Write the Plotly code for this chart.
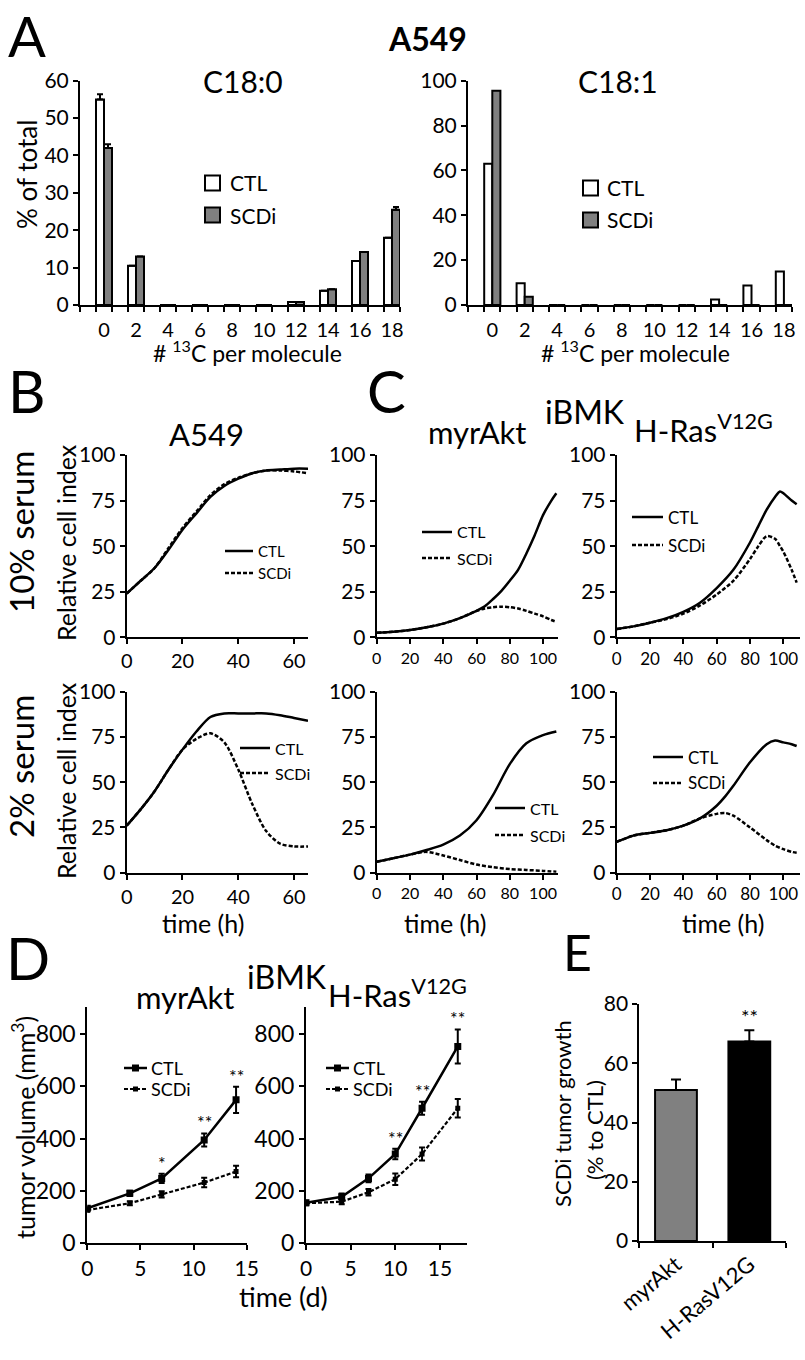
import plotly.graph_objects as go

W, H = 805, 1360
FONT = "Lato"

# ---------------- Panel A data (13C labelling) ----------------
a_x = [0, 2, 4, 6, 8, 10, 12, 14, 16, 18]
a_tick_text = ["0", "2", "4", "6", "8", "10", "12", "14", "16", "18"]
c180_ctl = [55.0, 10.5, 0, 0, 0, 0, 0.8, 3.8, 11.8, 18.0]
c180_ctl_err = [1.4, 0, 0, 0, 0, 0, 0, 0, 0, 0]
c180_scd = [42.0, 13.0, 0, 0, 0, 0, 0.8, 4.2, 14.2, 25.5]
c180_scd_err = [1.0, 0, 0, 0, 0, 0, 0, 0, 0, 0.7]
c181_ctl = [63.0, 9.7, 0, 0, 0, 0, 0, 2.5, 8.7, 14.9]
c181_scd = [95.5, 3.7, 0, 0, 0, 0, 0, 0, 0, 0]

# ---------------- Panel B (A549) ----------------
b_t = [0, 5, 10, 15, 20, 25, 30, 35, 40, 45, 50, 55, 60, 65]
b10_ctl = [24, 31, 38, 48, 59, 68, 77, 83, 87, 90, 91.5, 92, 92.5, 92.5]
b10_scd = [24, 31, 38, 49, 60, 69, 78, 84, 87.5, 90, 91.5, 91.5, 91, 90]
b2_ctl = [26, 35, 45, 57, 68, 78, 86, 88, 88, 88, 88, 87, 85.5, 84]
b2_scd = [26, 35, 45, 57, 68, 74, 77, 72, 57, 38, 23, 16, 14.5, 14.5]

# ---------------- Panel C (iBMK) ----------------
ca10_t = [0, 10, 20, 30, 40, 50, 60, 65, 70, 75, 80, 85, 90, 95, 100, 105, 108]
ca10_ctl = [2.5, 3, 4, 5.5, 7.5, 10.5, 14.5, 17, 21, 25.5, 31, 37, 46, 56, 67, 75, 79]
ca10_scd = [2.5, 3, 4, 5.5, 7.5, 10.5, 14.5, 15.8, 16.5, 16.8, 16.5, 15.8, 14.5, 13, 11.5, 9.5, 8.5]

cr10_t = [0, 10, 20, 30, 40, 50, 60, 70, 80, 85, 90, 95, 98, 100, 105, 108]
cr10_ctl = [4.5, 6, 8, 10.5, 14, 19, 27, 37, 52, 61, 70, 77, 80, 79, 75, 73]
cr10_scd = [4.5, 6, 8, 10, 13, 17.5, 23.5, 31, 43, 50, 55.5, 54, 50, 47, 37, 30]

ca2_t = [0, 10, 20, 30, 40, 50, 60, 70, 80, 90, 100, 108]
ca2_ctl = [6, 8, 10, 12.5, 15.5, 20.5, 29, 43, 60, 71.5, 76, 78]
ca2_scd = [6, 8, 10, 11.5, 9.5, 7, 4.5, 3, 2, 1.5, 1, 0.5]

cr2_t = [0, 10, 20, 30, 40, 50, 60, 65, 70, 80, 90, 95, 100, 105, 108]
cr2_ctl = [17, 20.5, 22, 23.5, 26, 30, 37, 42, 48, 61, 71, 73, 72, 71, 70]
cr2_scd = [17, 20.5, 22, 23.5, 26, 30, 32.5, 33, 31.5, 25, 18, 15, 13, 11.5, 11]

# ---------------- Panel D (tumor volume) ----------------
d_akt_day = [0, 4, 7, 11, 14]
d_akt_ctl = [134, 191, 248, 395, 548]
d_akt_ctl_err = [6, 10, 18, 25, 50]
d_akt_scd = [127, 153, 187, 232, 274]
d_akt_scd_err = [6, 8, 12, 18, 22]
d_akt_star = ["", "", "*", "**", "**"]

d_ras_day = [0, 4, 7, 10, 13, 17]
d_ras_ctl = [155, 178, 248, 341, 516, 752]
d_ras_ctl_err = [8, 12, 15, 20, 25, 65]
d_ras_scd = [153, 159, 195, 245, 341, 516]
d_ras_scd_err = [8, 10, 12, 22, 25, 35]
d_ras_star = ["", "", "", "**", "**", "**"]

# ---------------- Panel E ----------------
e_groups = ["myrAkt", "H-RasV12G"]
e_vals = [51.0, 67.3]
e_err = [3.5, 3.8]
e_star = ["", "**"]
e_colors = ["#808080", "#000000"]


def px(x):
    return x / W


def py(y):
    return 1 - y / H


def xd(a, b):
    return [a / W, b / W]


def yd(top, bottom):
    return [1 - bottom / H, 1 - top / H]


def axis(domain, rng, anchor, tickfont=20, **kw):
    d = dict(domain=domain, range=rng, anchor=anchor, showline=True, automargin=False,
             linecolor="black", linewidth=2, ticks="outside", ticklen=5,
             tickwidth=2, tickcolor="black", showgrid=False, zeroline=False,
             tickfont=dict(family=FONT, size=tickfont, color="black"),
             fixedrange=True)
    d.update(kw)
    return d


fig = go.Figure()
layout = {}
annotations = []
shapes = []


def ann(text, x, y, size, angle=0, bold=False, xanchor="center", yanchor="middle", **kw):
    if bold:
        text = "<b>" + text + "</b>"
    a = dict(text=text, x=px(x), y=py(y), xref="paper", yref="paper",
             showarrow=False, textangle=angle, xanchor=xanchor, yanchor=yanchor,
             font=dict(family=FONT, size=size, color="black"))
    a.update(kw)
    annotations.append(a)


# ---------------- Panel A ----------------
a_minor = dict(tickmode="linear", tick0=0.5, dtick=1, ticks="outside",
               ticklen=5, tickwidth=2, tickcolor="black")
layout["xaxis"] = axis(xd(80, 400), [-1.5, 18.5], "y", tickvals=a_x, ticktext=a_tick_text,
                       ticks="", minor=a_minor, ticklabelstandoff=6)
layout["yaxis"] = axis(yd(80.7, 305), [0, 60], "x", tickfont=21, tickvals=[0, 10, 20, 30, 40, 50, 60])
layout["xaxis2"] = axis(xd(468, 792), [-1.5, 18.5], "y2", tickvals=a_x, ticktext=a_tick_text,
                        ticks="", minor=a_minor, ticklabelstandoff=6)
layout["yaxis2"] = axis(yd(80.7, 305), [0, 100], "x2", tickfont=21, tickvals=[0, 20, 40, 60, 80, 100])

bar_line = dict(color="black", width=2)
for xa, ya, ctl, ctl_e, scd, scd_e in [("x", "y", c180_ctl, c180_ctl_err, c180_scd, c180_scd_err),
                                         ("x2", "y2", c181_ctl, None, c181_scd, None)]:
    tr = dict(x=a_x, y=ctl, xaxis=xa, yaxis=ya, width=0.5, offset=-0.5,
              marker=dict(color="white", line=bar_line), showlegend=False, hoverinfo="skip")
    if ctl_e:
        tr["error_y"] = dict(type="data", array=ctl_e, arrayminus=[0] * len(ctl_e),
                             symmetric=False, color="black", thickness=2, width=3)
    fig.add_trace(go.Bar(**tr))
    tr = dict(x=a_x, y=scd, xaxis=xa, yaxis=ya, width=0.5, offset=0,
              marker=dict(color="#808080", line=bar_line), showlegend=False, hoverinfo="skip")
    if scd_e:
        tr["error_y"] = dict(type="data", array=scd_e, arrayminus=[0] * len(scd_e),
                             symmetric=False, color="black", thickness=2, width=3)
    fig.add_trace(go.Bar(**tr))

# A legends (boxes)
for (x0, yc, xt) in [(205, 183, 228), (583, 188, 605)]:
    shapes.append(dict(type="rect", xref="paper", yref="paper", x0=px(x0), x1=px(x0 + 15),
                       y0=py(yc + 7.5), y1=py(yc - 7.5), fillcolor="white",
                       line=dict(color="black", width=2)))
    shapes.append(dict(type="rect", xref="paper", yref="paper", x0=px(x0), x1=px(x0 + 15),
                       y0=py(yc + 32 + 7.5), y1=py(yc + 32 - 7.5), fillcolor="#808080",
                       line=dict(color="black", width=2)))
    ann("CTL", xt, yc, 21, xanchor="left")
    ann("SCDi", xt, yc + 32, 21, xanchor="left")

ann("A", 27, 0, 56, yanchor="top")
ann("A549", 427, 38, 32, bold=True)
ann("C18:0", 243, 81, 30)
ann("C18:1", 618, 81, 30)
ann("# <sup>13</sup>C per molecule", 247, 352, 23)
ann("# <sup>13</sup>C per molecule", 635, 352, 23)
ann("% of total", 27, 174, 26, angle=-90)

# ---------------- Panels B and C ----------------
line_panels = [
    (3, xd(126.7, 308), [0, 65], yd(455, 637.3), [0, 20, 40, 60], 20, b_t, b10_ctl, b10_scd),
    (4, xd(126.7, 308), [0, 65], yd(691.7, 872.7), [0, 20, 40, 60], 20, b_t, b2_ctl, b2_scd),
    (5, xd(376.7, 558), [0, 109], yd(455, 637.3), [0, 20, 40, 60, 80, 100], 16, ca10_t, ca10_ctl, ca10_scd),
    (6, xd(376.7, 558), [0, 109], yd(691.7, 872.7), [0, 20, 40, 60, 80, 100], 16, ca2_t, ca2_ctl, ca2_scd),
    (7, xd(616.7, 800), [0, 110], yd(455, 637.3), [0, 20, 40, 60, 80, 100], 17, cr10_t, cr10_ctl, cr10_scd),
    (8, xd(616.7, 800), [0, 110], yd(691.7, 872.7), [0, 20, 40, 60, 80, 100], 17, cr2_t, cr2_ctl, cr2_scd),
]
for idx, xdom, xr, ydom, xtv, xtf, t, ctl, scd in line_panels:
    layout[f"xaxis{idx}"] = axis(xdom, xr, f"y{idx}", tickfont=xtf, tickvals=xtv)
    layout[f"yaxis{idx}"] = axis(ydom, [0, 100], f"x{idx}", tickfont=21, tickvals=[0, 25, 50, 75, 100])
    fig.add_trace(go.Scatter(x=t, y=ctl, xaxis=f"x{idx}", yaxis=f"y{idx}", mode="lines",
                             line=dict(color="black", width=2.5, shape="spline", smoothing=0.8),
                             showlegend=False, hoverinfo="skip"))
    fig.add_trace(go.Scatter(x=t, y=scd, xaxis=f"x{idx}", yaxis=f"y{idx}", mode="lines",
                             line=dict(color="black", width=2.5, dash="4px,2px", shape="spline", smoothing=0.8),
                             showlegend=False, hoverinfo="skip"))

for x0, x1, yc, ys, fs in [(225, 253, 551, 573, 15), (240, 270, 748, 773, 16),
                           (422, 452, 532, 558, 16), (632, 663, 517, 545, 17),
                           (495, 525, 808, 835, 16), (653, 683, 757, 783, 17)]:
    shapes.append(dict(type="line", xref="paper", yref="paper", x0=px(x0), x1=px(x1),
                       y0=py(yc), y1=py(yc), line=dict(color="black", width=2.5)))
    shapes.append(dict(type="line", xref="paper", yref="paper", x0=px(x0), x1=px(x1),
                       y0=py(ys), y1=py(ys), line=dict(color="black", width=2.5, dash="4px,2px")))
    ann("CTL", x1 + 3, yc, fs, xanchor="left")
    ann("SCDi", x1 + 3, ys, fs, xanchor="left")

ann("B", 27, 390, 58)
ann("C", 386, 390, 58)
ann("A549", 207, 434, 31)
ann("iBMK", 585, 411, 32)
ann("myrAkt", 477, 432, 31)
ann("H-Ras<sup>V12G</sup>", 703, 428, 31)
ann("10% serum", 21, 532, 33, angle=-90)
ann("2% serum", 21, 767, 33, angle=-90)
ann("Relative cell index", 66, 543, 25, angle=-90)
ann("Relative cell index", 66, 781, 25, angle=-90)
ann("time (h)", 203, 923, 25)
ann("time (h)", 445, 923, 25)
ann("time (h)", 723, 923, 25)

# ---------------- Panel D ----------------
d_panels = [
    (9, xd(87.3, 246.7), [0, 15], d_akt_day, d_akt_ctl, d_akt_ctl_err, d_akt_scd, d_akt_scd_err, d_akt_star),
    (10, xd(306, 466.7), [0, 18], d_ras_day, d_ras_ctl, d_ras_ctl_err, d_ras_scd, d_ras_scd_err, d_ras_star),
]
for idx, xdom, xr, day, ctl, ctle, scd, scde, stars in d_panels:
    layout[f"xaxis{idx}"] = axis(xdom, xr, f"y{idx}", tickfont=21, tickvals=[0, 5, 10, 15])
    layout[f"yaxis{idx}"] = axis(yd(1006.7, 1243.3), [0, 904], f"x{idx}", tickfont=23,
                                 tickvals=[0, 200, 400, 600, 800])
    fig.add_trace(go.Scatter(x=day, y=scd, xaxis=f"x{idx}", yaxis=f"y{idx}", mode="lines+markers",
                             line=dict(color="black", width=2.2, dash="4px,2px"),
                             marker=dict(symbol="square", size=5, color="black"),
                             error_y=dict(type="data", array=scde, color="black", thickness=2, width=3),
                             showlegend=False, hoverinfo="skip"))
    fig.add_trace(go.Scatter(x=day, y=ctl, xaxis=f"x{idx}", yaxis=f"y{idx}", mode="lines+markers",
                             line=dict(color="black", width=2.5),
                             marker=dict(symbol="square", size=7, color="black"),
                             error_y=dict(type="data", array=ctle, color="black", thickness=2, width=3),
                             showlegend=False, hoverinfo="skip"))
    for dx, v, e, s in zip(day, ctl, ctle, stars):
        if s:
            annotations.append(dict(text=s, x=dx, y=v + e, xref=f"x{idx}", yref=f"y{idx}",
                                    showarrow=False, xanchor="center", yanchor="bottom", yshift=-2,
                                    font=dict(family=FONT, size=18, color="black")))

for x0, x1 in [(124, 147), (326, 349)]:
    yc, ys = 1068, 1089
    shapes.append(dict(type="line", xref="paper", yref="paper", x0=px(x0), x1=px(x1),
                       y0=py(yc), y1=py(yc), line=dict(color="black", width=2.5)))
    shapes.append(dict(type="rect", xref="paper", yref="paper", x0=px((x0 + x1) / 2 - 3.5),
                       x1=px((x0 + x1) / 2 + 3.5), y0=py(yc + 3.5), y1=py(yc - 3.5),
                       fillcolor="black", line=dict(width=0)))
    shapes.append(dict(type="line", xref="paper", yref="paper", x0=px(x0), x1=px(x1),
                       y0=py(ys), y1=py(ys), line=dict(color="black", width=2.2, dash="4px,2px")))
    shapes.append(dict(type="rect", xref="paper", yref="paper", x0=px((x0 + x1) / 2 - 2.5),
                       x1=px((x0 + x1) / 2 + 2.5), y0=py(ys + 2.5), y1=py(ys - 2.5),
                       fillcolor="black", line=dict(width=0)))
    ann("CTL", x1 + 2, yc, 18, xanchor="left")
    ann("SCDi", x1 + 2, ys, 18, xanchor="left")

ann("D", 28, 957, 58)
ann("iBMK", 287, 976, 32)
ann("myrAkt", 185, 997, 31)
ann("H-Ras<sup>V12G</sup>", 397, 993, 31)
ann("tumor volume (mm<sup>3</sup>)", 23, 1128, 25, angle=-90)
ann("time (d)", 283, 1296, 27)

# ---------------- Panel E ----------------
layout["xaxis11"] = axis(xd(639.3, 786), [-0.5, 1.5], "y11", tickfont=22, type="category",
                         categoryorder="array", categoryarray=e_groups, tickangle=-40,
                         tickson="boundaries")
layout["yaxis11"] = axis(yd(1004, 1241), [0, 80], "x11", tickfont=21, tickvals=[0, 20, 40, 60, 80])
fig.add_trace(go.Bar(x=e_groups, y=e_vals, xaxis="x11", yaxis="y11", width=0.57,
                     marker=dict(color=e_colors, line=dict(color="black", width=2)),
                     error_y=dict(type="data", array=e_err, arrayminus=[0, 0], symmetric=False,
                                  color="black", thickness=2, width=5),
                     showlegend=False, hoverinfo="skip"))
for g, v, e, s in zip(e_groups, e_vals, e_err, e_star):
    if s:
        annotations.append(dict(text=s, x=g, y=v + e, xref="x11", yref="y11", showarrow=False,
                                xanchor="center", yanchor="bottom", yshift=0,
                                font=dict(family=FONT, size=20, color="black")))

ann("E", 577, 952, 50)
ann("SCDi tumor growth", 562, 1114, 22, angle=-90)
ann("(% to CTL)", 594, 1130, 22, angle=-90)

fig.update_layout(**layout)
fig.update_layout(width=W, height=H, autosize=False, margin=dict(l=0, r=0, t=0, b=0, pad=0),
                  paper_bgcolor="white", plot_bgcolor="white", barmode="overlay",
                  annotations=annotations, shapes=shapes, showlegend=False,
                  font=dict(family=FONT, color="black"))

fig.write_html("out.html", config={"displayModeBar": False},
               post_script="document.body.style.margin='0';")
